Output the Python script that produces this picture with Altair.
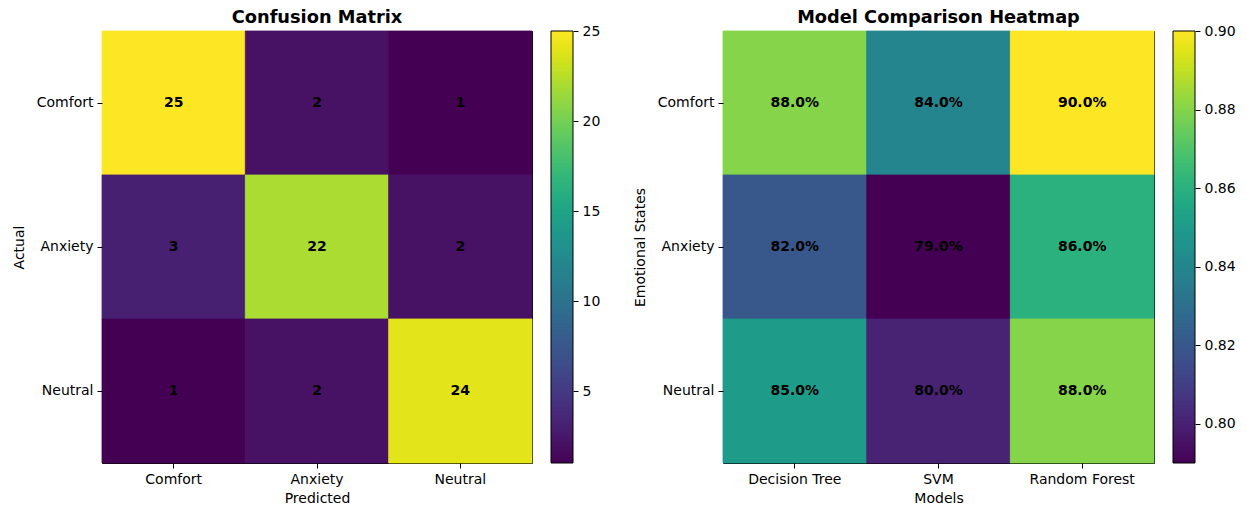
import altair as alt
import numpy as np
import pandas as pd

FONT = "DejaVu Sans"

emotions = ["Comfort", "Anxiety", "Neutral"]
models = ["Decision Tree", "SVM", "Random Forest"]

# counts: rows = actual class, columns = predicted class
confusion = [
    [25, 2, 1],
    [3, 22, 2],
    [1, 2, 24],
]

# accuracy: rows = emotional state, columns = model
accuracy = [
    [0.88, 0.84, 0.90],
    [0.82, 0.79, 0.86],
    [0.85, 0.80, 0.88],
]

cm_ticks = [5, 10, 15, 20, 25]
acc_ticks = [0.80, 0.82, 0.84, 0.86, 0.88, 0.90]

H = 432
CB_GAP, CB_W = 19, 22  # colorbar strip: gap from plot, strip width


def to_frame(matrix, cols):
    rows = []
    for i, r in enumerate(emotions):
        for j, c in enumerate(cols):
            rows.append({"row": r, "col": c, "v": matrix[i][j]})
    return pd.DataFrame(rows)


def heatmap(matrix, cols, title, xtitle, ytitle, vmin, vmax, ticks, cell_fmt,
            tick_fmt, W):
    df = to_frame(matrix, cols)
    color_scale = alt.Scale(scheme="viridis", domain=[vmin, vmax])

    x = alt.X("col:N", sort=cols,
              scale=alt.Scale(paddingInner=0, paddingOuter=0),
              axis=alt.Axis(title=xtitle, labelAngle=0, titlePadding=5))
    y = alt.Y("row:N", sort=emotions,
              scale=alt.Scale(paddingInner=0, paddingOuter=0),
              axis=alt.Axis(title=ytitle, titlePadding=10))

    # cells stroked in their own colour so neighbouring cells meet without seams
    rect = alt.Chart(df).mark_rect(strokeWidth=0.8).encode(
        x=x, y=y,
        color=alt.Color("v:Q", scale=color_scale, legend=None),
        stroke=alt.Stroke("v:Q", scale=color_scale, legend=None),
    )
    text = alt.Chart(df).mark_text(
        font=FONT, fontSize=14, fontWeight="bold", color="black"
    ).encode(x=x, y=y, text=alt.Text("v:Q", format=cell_fmt))
    cells = alt.layer(rect, text)

    # colorbar: thin overlapping bands spanning the colour domain
    n = 300
    edges = np.linspace(vmin, vmax, n + 1)
    step = edges[1] - edges[0]
    cb_df = pd.DataFrame({"lo": edges[:-1],
                          "hi": np.minimum(edges[:-1] + 2.5 * step, vmax),
                          "v": edges[:-1] + step / 2})
    x0, x1 = W + CB_GAP, W + CB_GAP + CB_W
    cb_y = alt.Y("lo:Q",
                 scale=alt.Scale(domain=[vmin, vmax], nice=False, zero=False),
                 axis=alt.Axis(orient="right", offset=x1 - W, values=ticks,
                               format=tick_fmt, title=None, grid=False,
                               domain=False))
    bands = alt.Chart(cb_df).mark_rect().encode(
        x=alt.value(x0), x2=alt.value(x1),
        y=cb_y, y2="hi:Q",
        color=alt.Color("v:Q", scale=color_scale, legend=None),
    )
    outline = alt.Chart(pd.DataFrame({"k": [0]})).mark_rect(
        filled=False, stroke="black", strokeWidth=1
    ).encode(x=alt.value(x0), x2=alt.value(x1),
             y=alt.value(0), y2=alt.value(H))
    colorbar = alt.layer(bands, outline)

    return alt.layer(cells, colorbar).resolve_scale(y="independent").properties(
        width=W, height=H,
        title=alt.TitleParams(title, font=FONT, fontSize=17.8, fontWeight="bold",
                              anchor="middle", frame="group", offset=-3,
                              color="black"),
    )


left = heatmap(confusion, emotions, "Confusion Matrix", "Predicted", "Actual",
               1, 25, cm_ticks, "d", "d", 430)
right = heatmap(accuracy, models, "Model Comparison Heatmap", "Models",
                "Emotional States", 0.79, 0.90, acc_ticks, ".1%", ".2f", 431)

chart = alt.hconcat(left, right, spacing=31).resolve_scale(
    color="independent", stroke="independent"
).properties(
    padding={"left": 11, "top": 8, "right": 5, "bottom": 0},
    background="white",
).configure_view(
    stroke="black", strokeWidth=1
).configure_axis(
    labelFont=FONT, labelFontSize=14, labelColor="black",
    titleFont=FONT, titleFontSize=14, titleFontWeight="normal", titleColor="black",
    tickColor="black", tickSize=5, labelPadding=4, domain=False, grid=False,
)

chart.save("out.html", embed_options={"renderer": "svg", "actions": False})
